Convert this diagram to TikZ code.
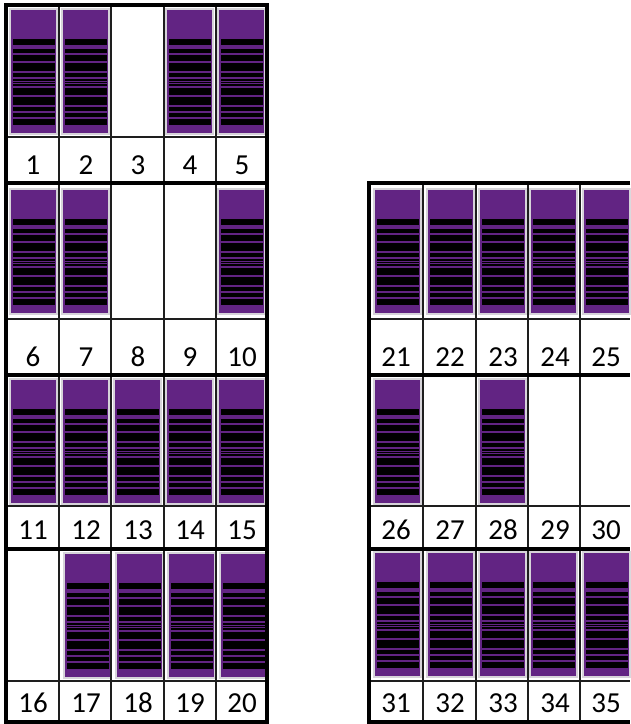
\documentclass[tikz,border=0pt]{standalone}
\usepackage{fontspec}
\setmainfont{Carlito}
\usepackage{xcolor}
\definecolor{slotpurple}{HTML}{622483}
\definecolor{slotrim}{HTML}{D6D3D9}
\definecolor{gridink}{HTML}{1E1E1E}
\newcommand{\rackslot}[2]{%
  \draw[slotrim,line width=0.7pt,fill=slotpurple] (#1,#2) rectangle ++(47,125);
  \foreach \ya/\yb in {30/36.3,40/44,46/52,54/62.3,64/68.3,70/71.5,72.7/74,75.3/77.3,78.5/86.3,88/96.3,98/102,104/108,110/116.3}
    \fill[black] (#1+2.5,#2+\ya) rectangle (#1+44.5,#2+\yb);
}
\tikzset{
  numlabel/.style={font=\fontsize{16.5}{18}\selectfont,text=black,inner sep=0pt,text height=0.38cm,text depth=0pt},
  thinrule/.style={gridink,line width=1.2pt},
  thickrule/.style={black,line width=1.9pt}
}
\begin{document}
\begin{tikzpicture}[x=0.02cm,y=-0.02cm]
  \clip (0,0) rectangle (630,724);
  \fill[white] (0,0) rectangle (630,724);
  % left rack
  \foreach \px/\py in {10/9,62/9,166/9,218/9,
                       10/189,62/189,218/189,
                       10/379,62/379,114/379,166/379,218/379,
                       64/553,116/553,168/553,220/553}
    \rackslot{\px}{\py}
  % right rack
  \foreach \px/\py in {374/189,427/189,479/189,530/189,583/189,
                       374/379,479/379,
                       374/552,427/552,479/552,530/552,583/552}
    \rackslot{\px}{\py}
  % grid lines
  \foreach \xa in {59,111,164,216}
    \draw[thinrule] (\xa,5)--(\xa,722);
  \foreach \xa in {423,476,528,580}
    \draw[thinrule] (\xa,184)--(\xa,722);
  \foreach \ya in {137,319,506,681}
    \draw[thinrule] (6,\ya)--(267,\ya);
  \foreach \ya in {319,506,681}
    \draw[thinrule] (369,\ya)--(630,\ya);
  \foreach \ya in {183,375,549}
    \draw[thickrule] (6,\ya)--(267,\ya);
  \foreach \ya in {375,549}
    \draw[thickrule] (369,\ya)--(630,\ya);
  \draw[black,line width=1.9pt] (6,5) rectangle (267,722);
  \draw[black,line width=1.9pt] (630,183)--(369,183)--(369,722)--(630,722);
  % slot numbers
  \foreach \yc [count=\r from 0] in {165,357,530,703}
    \foreach \xc [count=\c from 1] in {33,86,138,190,242} {
      \pgfmathtruncatemacro{\num}{5*\r+\c}
      \node[numlabel] (n\num) at (\xc,\yc) {\num};
    }
  \foreach \yc [count=\r from 0] in {357,530,703}
    \foreach \xc [count=\c from 1] in {396,450,503,555,606} {
      \pgfmathtruncatemacro{\num}{20+5*\r+\c}
      \node[numlabel] (n\num) at (\xc,\yc) {\num};
    }
\end{tikzpicture}
\end{document}
